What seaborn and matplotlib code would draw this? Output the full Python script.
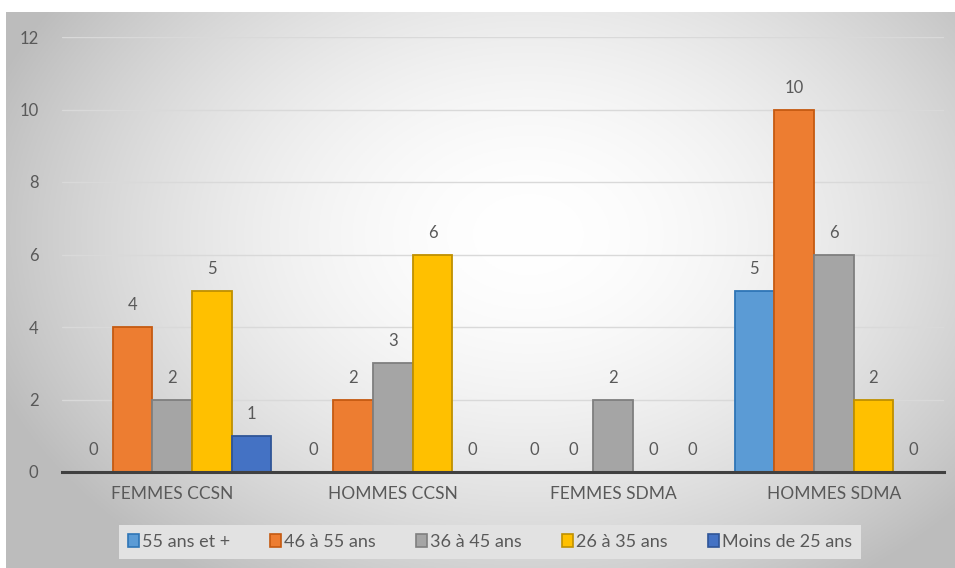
import numpy as np
import pandas as pd
import matplotlib
matplotlib.use("Agg")
import matplotlib.pyplot as plt
import seaborn as sns
from matplotlib.patches import Patch

# Categories and series
groups = ["FEMMES CCSN", "HOMMES CCSN", "FEMMES SDMA", "HOMMES SDMA"]
age_bands = ["55 ans et +", "46 à 55 ans", "36 à 45 ans", "26 à 35 ans", "Moins de 25 ans"]
v_55_plus = [0, 0, 0, 5]
v_46_55 = [4, 2, 0, 10]
v_36_45 = [2, 3, 2, 6]
v_26_35 = [5, 6, 0, 2]
v_under_25 = [1, 0, 0, 0]
y_ticks = [0, 2, 4, 6, 8, 10, 12]

fills = ["#5B9BD5", "#ED7D31", "#A5A5A5", "#FFC000", "#4472C4"]
edges = ["#2E75B6", "#C55A11", "#7F7F7F", "#BF9000", "#2F5597"]

series = [v_55_plus, v_46_55, v_36_45, v_26_35, v_under_25]
df = pd.DataFrame(
    [(g, band, vals[i]) for band, vals in zip(age_bands, series) for i, g in enumerate(groups)],
    columns=["groupe", "age", "effectif"],
)

sns.set_theme(style="white")
plt.rcParams["font.family"] = ["Lato", "DejaVu Sans"]

W, H = 955, 568
fig = plt.figure(figsize=(W / 100, H / 100), dpi=100)
fig.patch.set_facecolor("white")

# Radial gradient backdrop
bg = fig.add_axes([6 / W, 0, (W - 6) / W, (H - 12) / H], zorder=0)
yy, xx = np.mgrid[0:1:300j, 0:1:500j]
r = np.sqrt(((xx - 0.55) / 0.6) ** 2 + ((yy - 0.6) / 0.75) ** 2)
shade = 1.0 - 0.26 * np.clip(r, 0, 1.4) ** 1.8
shade = np.clip(shade, 0.74, 1.0)
bg.imshow(np.dstack([shade] * 3), aspect="auto", extent=[0, 1, 0, 1], origin="lower")
bg.set_axis_off()

ax = fig.add_axes([62 / W, (H - 472) / H, 882 / W, 435 / H], zorder=1)
ax.patch.set_alpha(0)

sns.barplot(
    data=df, x="groupe", y="effectif", hue="age", order=groups, hue_order=age_bands,
    palette=fills, width=0.9, linewidth=1.3, saturation=1, legend=False, ax=ax,
)

for k, cont in enumerate(ax.containers):
    for p in cont.patches:
        p.set_edgecolor(edges[k])
        p.set_zorder(3)
    ax.bar_label(cont, labels=[f"{v:g}" for v in series[k]], padding=10,
                 fontsize=12, color="#595959")

ax.set_ylim(0, 12)
ax.set_xlim(-0.5, 3.5)
ax.set_yticks(y_ticks)
ax.set_yticklabels([str(t) for t in y_ticks])
ax.yaxis.grid(True, color="#d9d9d9", linewidth=1)
ax.set_axisbelow(True)
for s in ["top", "right", "left"]:
    ax.spines[s].set_visible(False)
ax.spines["bottom"].set_color("#404040")
ax.spines["bottom"].set_linewidth(2.2)
ax.spines["bottom"].set_zorder(5)
ax.tick_params(axis="y", length=0, pad=17, labelsize=12, labelcolor="#595959")
ax.tick_params(axis="x", length=0, pad=10, labelsize=12.5, labelcolor="#595959")
ax.set_xlabel("")
ax.set_ylabel("")

handles = [Patch(facecolor=f, edgecolor=e, linewidth=1.2) for f, e in zip(fills, edges)]
leg = fig.legend(
    handles, age_bands, loc="center", bbox_to_anchor=(490 / W, (H - 542) / H),
    ncol=5, frameon=True, fontsize=13, handlelength=0.6, handleheight=0.7,
    handletextpad=0.2, columnspacing=2.2, borderpad=0.5, borderaxespad=0,
    fancybox=False, labelcolor="#595959",
)
leg.get_frame().set_facecolor("#e2e2e2")
leg.get_frame().set_edgecolor("none")
leg.get_frame().set_alpha(1)

fig.savefig("out.png", dpi=100)
